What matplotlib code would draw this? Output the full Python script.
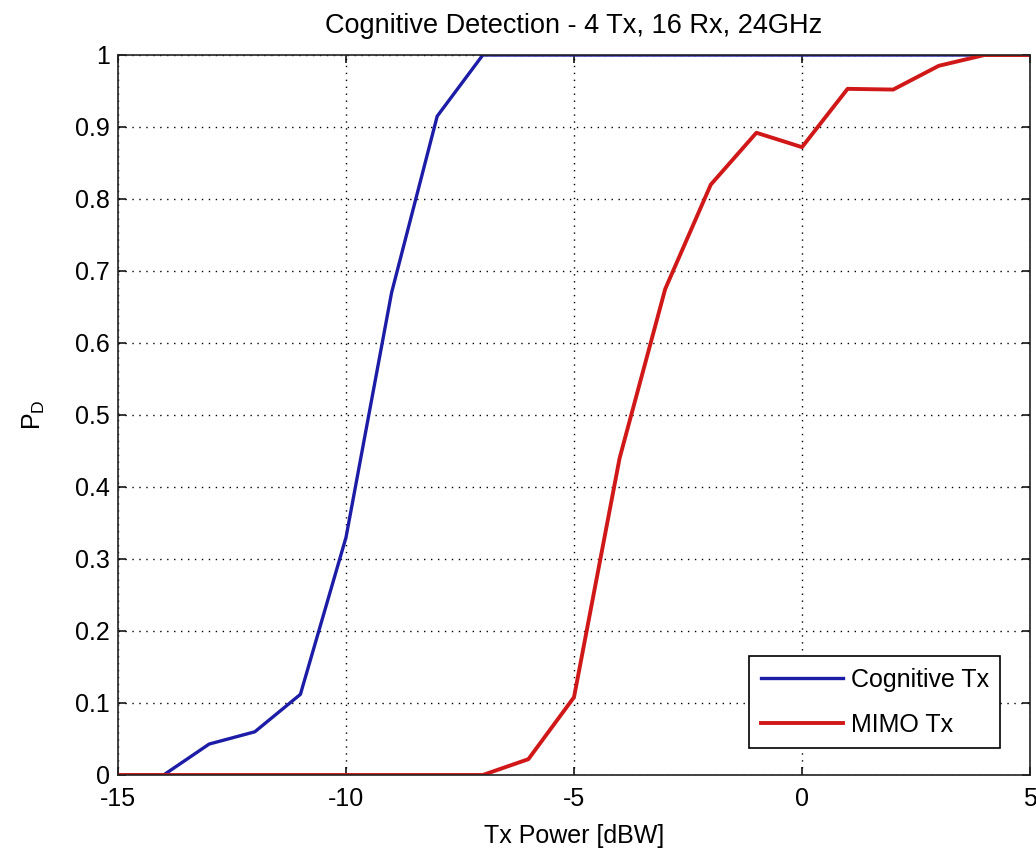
import matplotlib
matplotlib.use("Agg")
import matplotlib.pyplot as plt

plt.rcParams['font.family'] = ['Liberation Sans', 'DejaVu Sans']
plt.rcParams['mathtext.fontset'] = 'custom'
plt.rcParams['mathtext.rm'] = 'Liberation Sans'

# Data
tx_power = [-15, -14, -13, -12, -11, -10, -9, -8, -7, -6, -5, -4, -3, -2, -1, 0, 1, 2, 3, 4, 5]
pd_cognitive = [0, 0, 0.043, 0.06, 0.112, 0.33, 0.67, 0.915, 1.0, 1.0, 1.0, 1.0, 1.0, 1.0, 1.0, 1.0, 1.0, 1.0, 1.0, 1.0, 1.0]
pd_mimo = [0, 0, 0, 0, 0, 0, 0, 0, 0, 0.022, 0.108, 0.44, 0.675, 0.82, 0.892, 0.872, 0.953, 0.952, 0.985, 1.0, 1.0]
series_labels = ['Cognitive Tx', 'MIMO Tx']
x_ticks = [-15, -10, -5, 0, 5]
y_ticks = [0, 0.1, 0.2, 0.3, 0.4, 0.5, 0.6, 0.7, 0.8, 0.9, 1]
y_ticklabels = ['0', '0.1', '0.2', '0.3', '0.4', '0.5', '0.6', '0.7', '0.8', '0.9', '1']
title = 'Cognitive Detection - 4 Tx, 16 Rx, 24GHz'
xlabel = 'Tx Power [dBW]'
ylabel = r'$\mathrm{P}_\mathrm{D}$'

W, H = 1036, 850
fig = plt.figure(figsize=(W / 100, H / 100), dpi=100)
L, R, T, B = 118, 1030, 55, 775
ax = fig.add_axes([L / W, (H - B) / H, (R - L) / W, (B - T) / H])

ax.plot(tx_power, pd_cognitive, color='#1c1ca6', lw=2.4, label=series_labels[0], solid_joinstyle='round')
ax.plot(tx_power, pd_mimo, color='#d01818', lw=2.8, label=series_labels[1], solid_joinstyle='round')

ax.set_xlim(-15, 5)
ax.set_ylim(0, 1)
ax.set_xticks(x_ticks)
ax.set_xticklabels([str(v) for v in x_ticks])
ax.set_yticks(y_ticks)
ax.set_yticklabels(y_ticklabels)

ax.grid(True, color='black', linestyle=(0, (1, 4)), linewidth=1.0)
ax.tick_params(direction='in', length=6, width=1.1, top=True, right=True,
               labelsize=18, pad=6, colors='black')
ax.tick_params(axis='x', pad=9)
for s in ax.spines.values():
    s.set_linewidth(1.2)
    s.set_color('#222222')

ax.set_title(title, fontsize=19.5, pad=16)
ax.set_xlabel(xlabel, fontsize=18, labelpad=9)
ax.set_ylabel(ylabel, fontsize=18)
ax.yaxis.set_label_coords(-0.092, 0.5)
ax.yaxis.label.set_va('center')

leg = ax.legend(loc='lower right', bbox_to_anchor=((1000 - L) / (R - L), (B - 748) / (B - T)),
                fontsize=18, fancybox=False, framealpha=1, edgecolor='black',
                handlelength=3.3, handletextpad=0.3, borderpad=0.45, labelspacing=0.85,
                borderaxespad=0)
leg.get_frame().set_linewidth(1.2)

fig.savefig('out.png', dpi=100)
